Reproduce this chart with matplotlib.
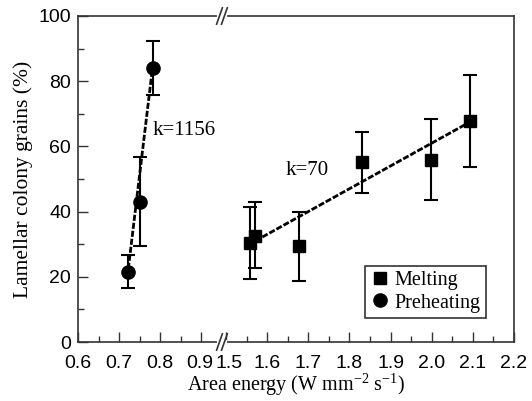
import numpy as np
import matplotlib.pyplot as plt
from matplotlib.ticker import FixedLocator
from matplotlib.lines import Line2D
from matplotlib.transforms import ScaledTranslation

plt.rcParams['font.family'] = ['Liberation Sans', 'DejaVu Sans']
plt.rcParams['mathtext.fontset'] = 'custom'
plt.rcParams['mathtext.rm'] = 'Liberation Serif'

# preheating data
pre_x = np.array([0.722, 0.750, 0.782])
pre_y = np.array([21.5, 43.0, 84.0])
pre_lo = np.array([16.6, 29.4, 75.8])
pre_hi = np.array([26.7, 56.7, 92.3])
pre_fit_x = [0.720, 0.782]
pre_fit_y = [20.0, 85.0]

# melting data
mel_x = np.array([1.559, 1.571, 1.678, 1.830, 1.998, 2.093])
mel_y = np.array([30.4, 32.5, 29.4, 55.2, 55.8, 67.8])
mel_lo = np.array([19.3, 22.7, 18.7, 45.7, 43.6, 53.7])
mel_hi = np.array([41.4, 43.0, 39.9, 64.4, 68.4, 82.0])
mel_fit_x = [1.571, 2.093]
mel_fit_y = [31.0, 67.5]

left_ticks = [0.6, 0.7, 0.8, 0.9]
right_ticks = [1.5, 1.6, 1.7, 1.8, 1.9, 2.0, 2.1, 2.2]

shift = 0.54  # right segment offset
brk = 0.95


def tx(x):
    x = np.asarray(x, dtype=float)
    return np.where(x > 1.2, x - shift, x)


fig = plt.figure(figsize=(5.32, 4.01), dpi=100)
ax = fig.add_axes([0.1466, 0.1471, 0.8195, 0.813])

serif = ['Liberation Serif', 'DejaVu Serif']
dash = (0, (2.2, 0.7))

ax.plot(tx(pre_fit_x), pre_fit_y, color='black', lw=2, ls=dash)
ax.plot(tx(mel_fit_x), mel_fit_y, color='black', lw=2, ls=dash)

ax.errorbar(tx(mel_x), mel_y, yerr=[mel_y - mel_lo, mel_hi - mel_y], fmt='s',
            color='black', ms=8, capsize=5, elinewidth=1.5, capthick=1.5)
ax.errorbar(tx(pre_x), pre_y, yerr=[pre_y - pre_lo, pre_hi - pre_y], fmt='o',
            color='black', ms=9.5, capsize=5, elinewidth=1.5, capthick=1.5)

ax.text(tx(0.781), 65, 'k=1156', family=serif, fontsize=15, va='center')
ax.text(tx(1.644), 52.5, 'k=70', family=serif, fontsize=15, va='center')

ax.set_xlim(0.6, 2.2 - shift)
ax.set_ylim(0, 100)

major = list(tx(left_ticks)) + list(tx(right_ticks))
ax.xaxis.set_major_locator(FixedLocator(major))
ax.set_xticklabels([f'{v:.1f}' for v in left_ticks + right_ticks])
minor = list(tx([0.65, 0.75, 0.85])) + list(tx(np.arange(1.55, 2.2, 0.1)))
ax.xaxis.set_minor_locator(FixedLocator(minor))
ax.set_yticks(np.arange(0, 101, 20))
ax.set_yticks(np.arange(10, 100, 20), minor=True)

ax.tick_params(which='both', direction='in', top=False, right=False,
               labelsize=14, color='#333333')
ax.tick_params(which='major', length=7, width=1)
ax.tick_params(which='minor', length=4, width=1)
ax.tick_params(axis='x', pad=9)
ax.tick_params(axis='y', pad=5)
for s in ax.spines.values():
    s.set_color('#333333')
    s.set_linewidth(1.2)

# nudge the crowded labels at the break apart
xlabels = ax.get_xticklabels()
xlabels[3].set_transform(xlabels[3].get_transform()
                         + ScaledTranslation(-2 / 100, 0, fig.dpi_scale_trans))
xlabels[4].set_transform(xlabels[4].get_transform()
                         + ScaledTranslation(3 / 100, 0, fig.dpi_scale_trans))

ax.set_xlabel('Area energy (W mm$^{-2}$ s$^{-1}$)', family=serif, fontsize=14.5,
              labelpad=0)
ax.set_ylabel('Lamellar colony grains (%)', family=serif, fontsize=15.5,
              labelpad=4)

# axis break marks on top and bottom spines
trans = ax.get_xaxis_transform()
for yy in (0, 1):
    ax.plot([brk - 0.008, brk + 0.008], [yy, yy], color='white', lw=3,
            transform=trans, clip_on=False, zorder=5)
    for dx in (-0.006, 0.006):
        ax.plot([brk + dx - 0.007, brk + dx + 0.007], [yy - 0.025, yy + 0.025],
                color='#333333', lw=1.2, transform=trans, clip_on=False,
                zorder=6)

handles = [Line2D([], [], marker='s', color='black', ls='none', ms=8),
           Line2D([], [], marker='o', color='black', ls='none', ms=9.5)]
leg = ax.legend(handles, ['Melting', 'Preheating'], loc='lower right',
                bbox_to_anchor=(0.935, 0.075),
                prop={'family': serif, 'size': 14.5}, frameon=True,
                fancybox=False, edgecolor='black', handletextpad=0.2,
                borderpad=0.25, handlelength=1.0, labelspacing=0.15,
                borderaxespad=0)
leg.get_frame().set_linewidth(1.2)

fig.savefig('out.png', dpi=100)
